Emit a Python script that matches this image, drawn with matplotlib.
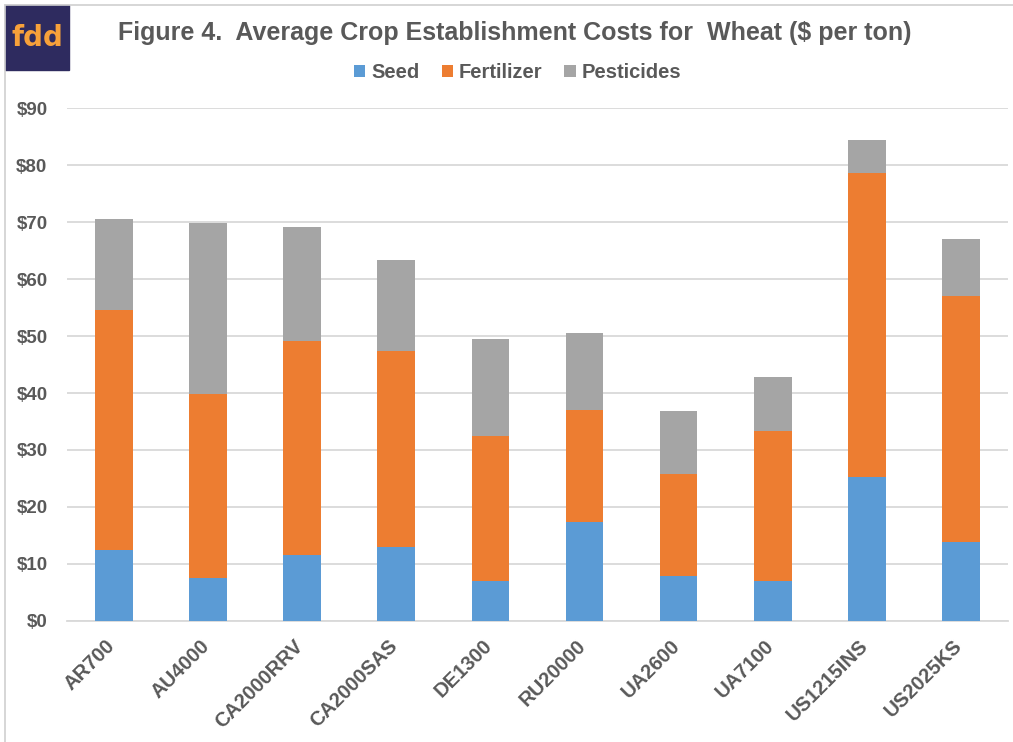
import matplotlib
matplotlib.use("Agg")
import matplotlib.pyplot as plt
from matplotlib.patches import Rectangle
from matplotlib.lines import Line2D
from matplotlib.transforms import ScaledTranslation
import numpy as np

plt.rcParams['font.family'] = ['Liberation Sans', 'DejaVu Sans']

## Data ($ per ton)
regions = ['AR700', 'AU4000', 'CA2000RRV', 'CA2000SAS', 'DE1300',
           'RU20000', 'UA2600', 'UA7100', 'US1215INS', 'US2025KS']
seed = [12.5, 7.5, 11.6, 13.0, 7.0, 17.4, 7.9, 7.0, 25.2, 13.8]
fertilizer = [42.0, 32.4, 37.5, 34.4, 25.5, 19.7, 17.9, 26.3, 53.4, 43.2]
pesticides = [16.0, 29.9, 20.0, 16.0, 17.0, 13.4, 11.0, 9.5, 5.8, 10.1]

c_seed = '#5B9BD5'
c_fert = '#ED7D31'
c_pest = '#A5A5A5'
txt = '#595959'
grid = '#D9D9D9'

fig = plt.figure(figsize=(10.13, 7.42), dpi=100)
ax = fig.add_axes([0.0661, 0.1631, 0.9289, 0.6913])

x = np.arange(len(regions))
w = 0.40
bottom2 = np.array(seed) + np.array(fertilizer)
ax.bar(x, seed, w, color=c_seed, label='Seed', zorder=3)
ax.bar(x, fertilizer, w, bottom=seed, color=c_fert, label='Fertilizer', zorder=3)
ax.bar(x, pesticides, w, bottom=bottom2, color=c_pest, label='Pesticides', zorder=3)

ax.set_xlim(-0.5, len(regions) - 0.5)
ax.set_ylim(0, 90)
ax.set_yticks(range(0, 91, 10))
ax.set_yticklabels(['$%d' % v for v in range(0, 91, 10)])
ax.set_xticks(x)
ax.set_xticklabels(regions, rotation=45, ha='right', rotation_mode='default')
ax.yaxis.grid(True, color=grid, linewidth=1.3, zorder=0)
ax.set_axisbelow(True)
for s in ['left', 'top', 'right']:
    ax.spines[s].set_visible(False)
ax.spines['bottom'].set_color(grid)
ax.spines['bottom'].set_linewidth(1.3)
ax.tick_params(axis='y', length=0, labelsize=13.5, labelcolor=txt, pad=14)
ax.tick_params(axis='x', length=0, labelsize=14.5, labelcolor=txt, pad=11)
shift = ScaledTranslation(5 / 100, 0, fig.dpi_scale_trans)
for lab in ax.get_xticklabels():
    lab.set_fontweight('bold')
    lab.set_transform(lab.get_transform() + shift)
for lab in ax.get_yticklabels():
    lab.set_fontweight('bold')

fig.text(0.508, 0.955, 'Figure 4.  Average Crop Establishment Costs for  Wheat ($ per ton)',
         ha='center', va='center', fontsize=18, fontweight='bold', color=txt)

fig.legend(loc='center', bbox_to_anchor=(0.511, 0.902), ncol=3, frameon=False,
           handlelength=0.55, handleheight=0.55, handletextpad=0.3,
           columnspacing=1.1, prop={'weight': 'bold', 'size': 14.5},
           labelcolor=txt)

# top/left frame lines and logo
fig.lines.append(Line2D([5 / 1013, 1], [1 - 5 / 742, 1 - 5 / 742],
                        transform=fig.transFigure, color='#D0D0D0', linewidth=1.2))
fig.lines.append(Line2D([5 / 1013, 5 / 1013], [0, 1 - 5 / 742],
                        transform=fig.transFigure, color='#D0D0D0', linewidth=1.2))
fig.patches.append(Rectangle((5 / 1013, 1 - 70 / 742), 64 / 1013, 65 / 742,
                             transform=fig.transFigure, facecolor='#2E2B5F',
                             edgecolor='#2E2B5F'))
fig.text(37 / 1013, 1 - 38 / 742, 'fdd', ha='center', va='center', fontsize=20,
         fontweight='bold', color='#F7A13A', family='DejaVu Sans')

fig.savefig('out.png', dpi=100)
